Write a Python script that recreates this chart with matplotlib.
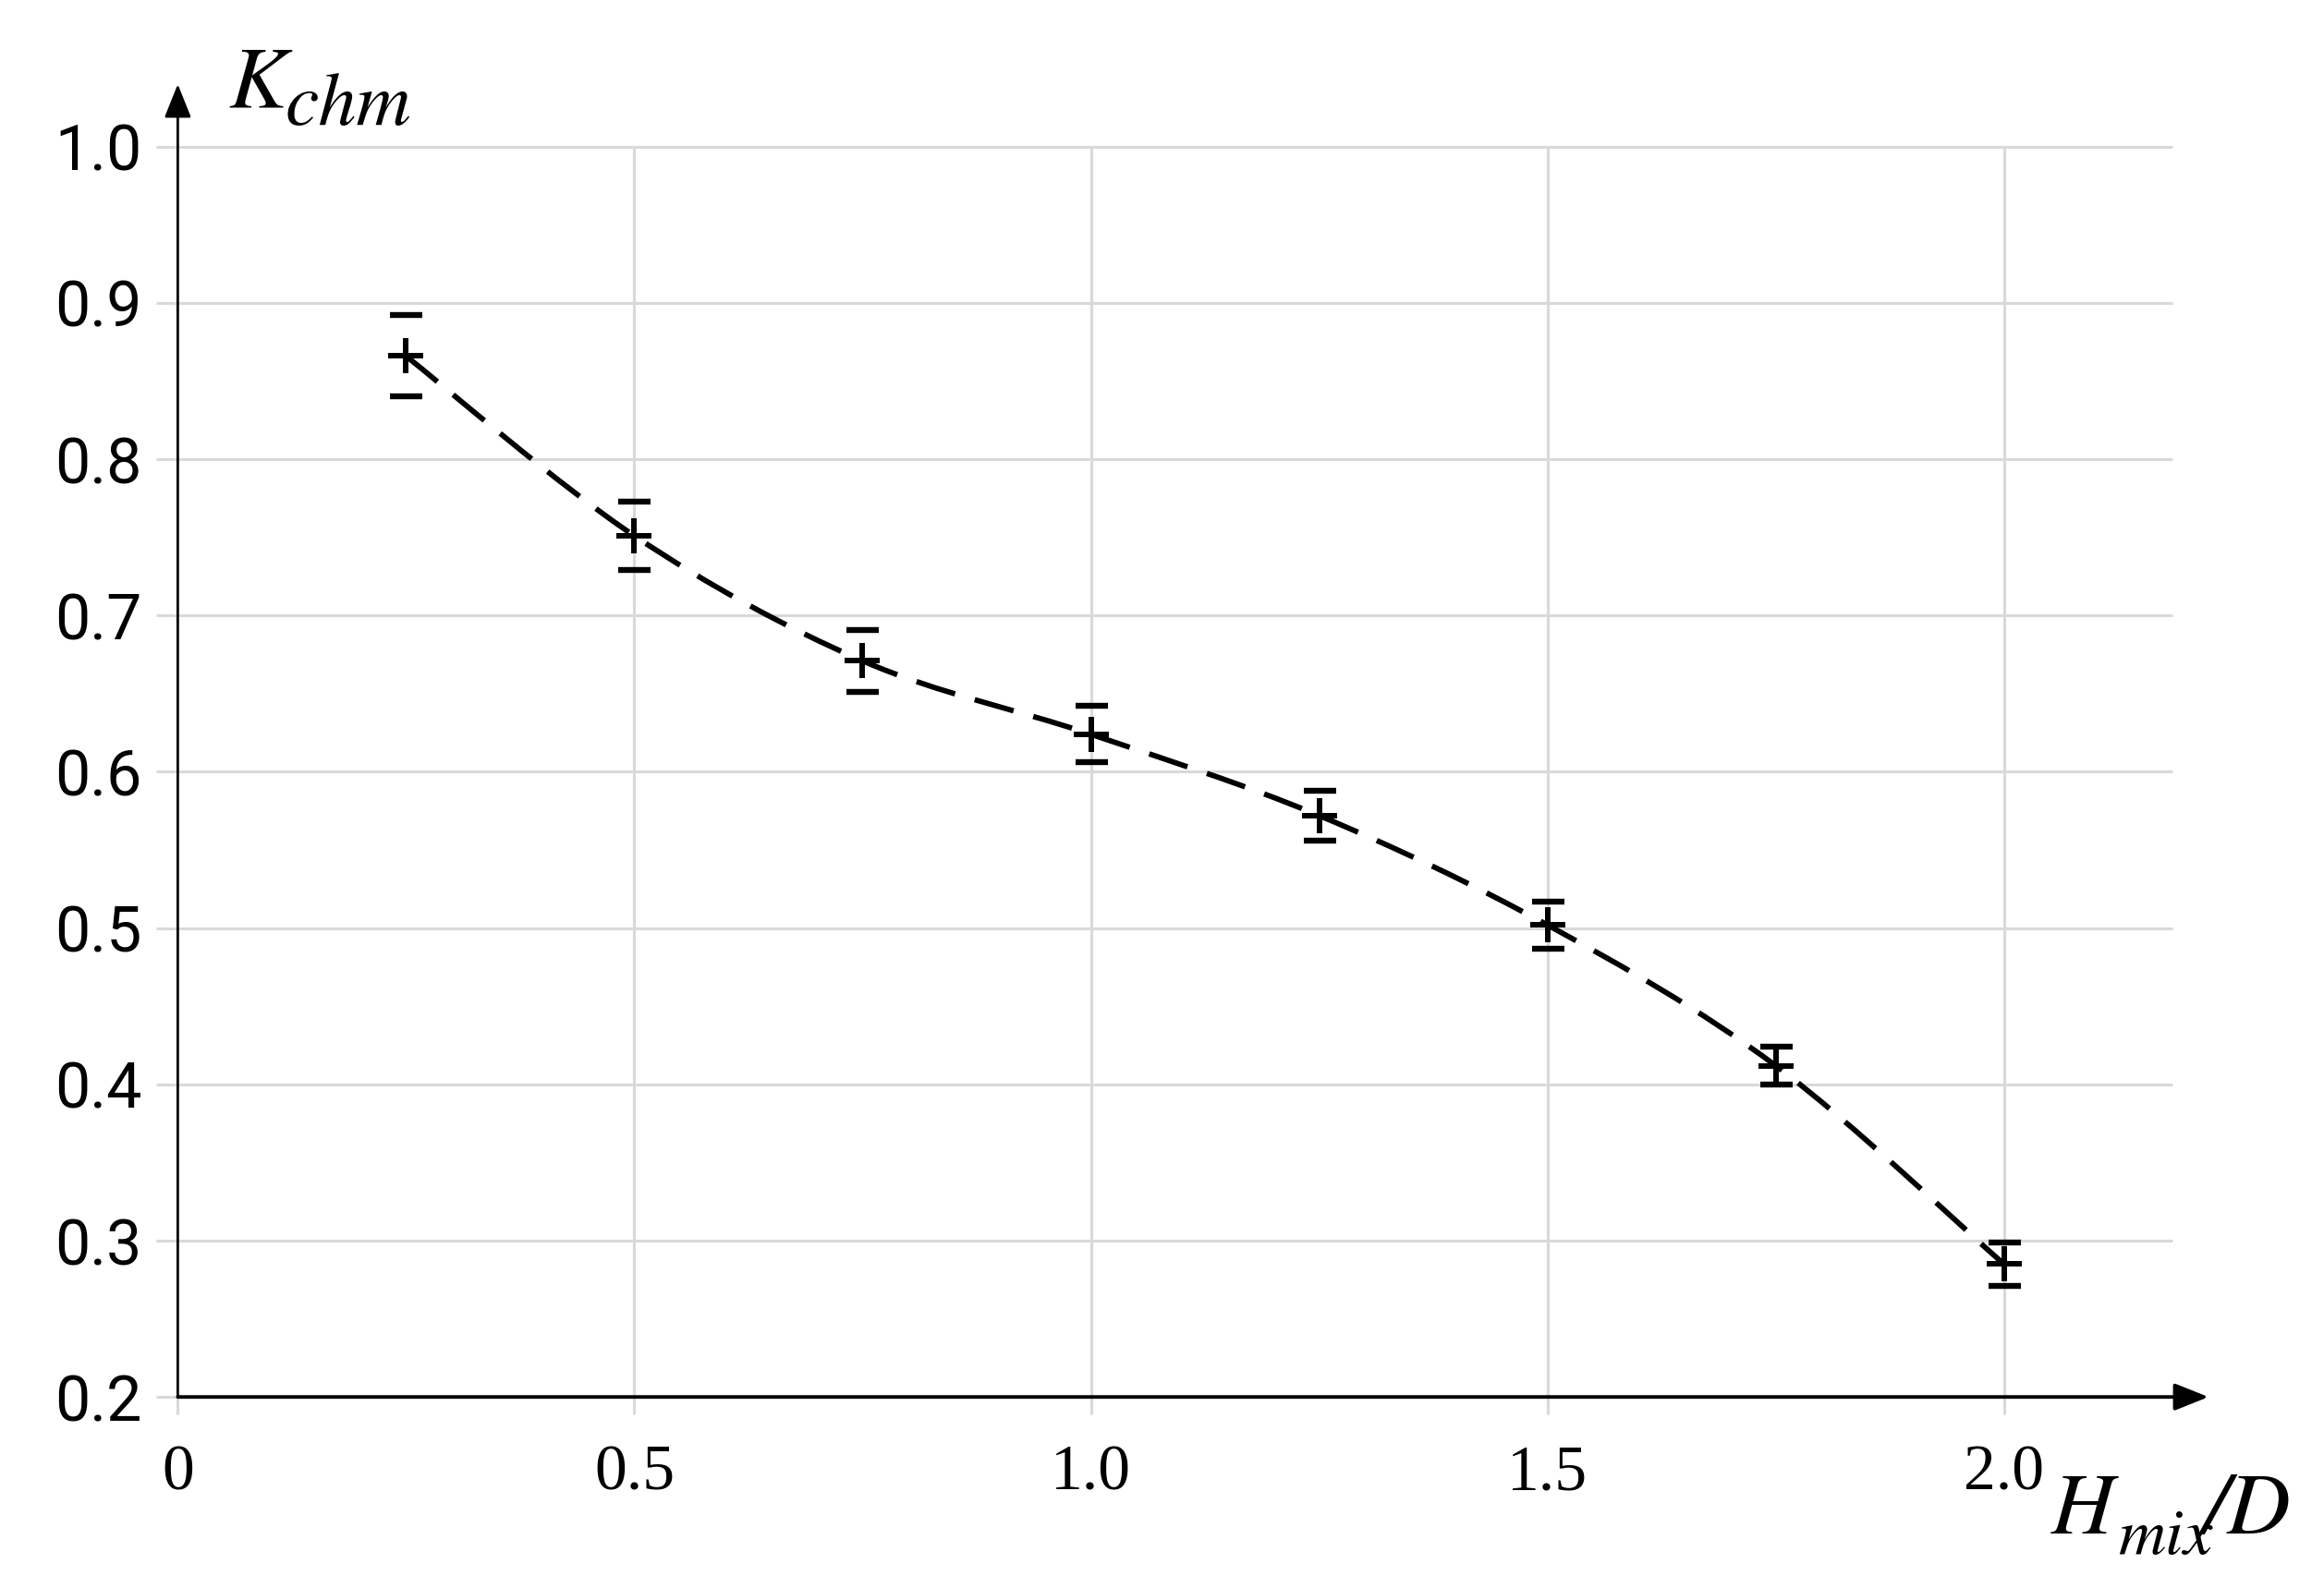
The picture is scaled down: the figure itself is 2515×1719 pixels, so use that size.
import numpy as np
from matplotlib import pyplot as plt
from matplotlib.path import Path
from matplotlib.patches import PathPatch

# данные: H_mix/D и K_chm с погрешностью
h_mix = [0.25, 0.5, 0.75, 1.0, 1.25, 1.5, 1.75, 2.0]
k_chm = [0.866, 0.751, 0.671, 0.624, 0.572, 0.502, 0.412, 0.285]
k_err = [0.026, 0.022, 0.020, 0.018, 0.016, 0.015, 0.012, 0.014]

x_ticks = [0, 0.5, 1.0, 1.5, 2.0]
x_tick_labels = ["0", "0.5", "1.0", "1.5", "2.0"]
y_ticks = [0.2, 0.3, 0.4, 0.5, 0.6, 0.7, 0.8, 0.9, 1.0]
y_tick_labels = ["0.2", "0.3", "0.4", "0.5", "0.6", "0.7", "0.8", "0.9", "1.0"]


def smooth_path(xs, ys):
    # кривая Безье через точки (Catmull-Rom), рисует сама matplotlib
    pts = np.column_stack([xs, ys])
    n = len(pts)
    verts = [pts[0]]
    codes = [Path.MOVETO]
    for i in range(n - 1):
        p0 = pts[max(i - 1, 0)]
        p1 = pts[i]
        p2 = pts[i + 1]
        p3 = pts[min(i + 2, n - 1)]
        c1 = p1 + (p2 - p0) / 6.0
        c2 = p2 - (p3 - p1) / 6.0
        verts += [c1, c2, p2]
        codes += [Path.CURVE4] * 3
    return Path(verts, codes)


fig = plt.figure(figsize=(25.15, 17.19), dpi=100)
ax = fig.add_axes([0.0765, 0.1203, 0.9503 - 0.0765, 0.947 - 0.1203])
ax.set_xlim(0, 2.224)
ax.set_ylim(0.2, 1.04)
for s in ax.spines.values():
    s.set_visible(False)

# сетка
grid_c = "#d9d9d9"
ax.hlines(y_ticks, -0.024, 2.185, color=grid_c, lw=2.2, zorder=0, clip_on=False)
ax.vlines(x_ticks[1:], 0.189, 1.0, color=grid_c, lw=2.2, zorder=0, clip_on=False)
ax.vlines([0], 0.189, 0.2, color=grid_c, lw=2.2, zorder=0, clip_on=False)

# оси со стрелками
ax.annotate("", xy=(2.224, 0.2), xytext=(0, 0.2), annotation_clip=False,
            arrowprops=dict(arrowstyle="-|>,head_length=0.45,head_width=0.18",
                            lw=2.8, color="black", mutation_scale=50,
                            shrinkA=0, shrinkB=0), zorder=3)
ax.annotate("", xy=(0, 1.04), xytext=(0, 0.2), annotation_clip=False,
            arrowprops=dict(arrowstyle="-|>,head_length=0.45,head_width=0.18",
                            lw=2.0, color="black", mutation_scale=50,
                            shrinkA=0, shrinkB=0), zorder=3)

# штриховая кривая
curve = PathPatch(smooth_path(h_mix, k_chm), fill=False, edgecolor="black",
                  lw=4.2, linestyle=(0, (7.5, 3.8)), transform=ax.transData, zorder=2)
ax.add_patch(curve)

# погрешности и точки
ax.errorbar(h_mix, k_chm, yerr=k_err, fmt="none", ecolor="black",
            elinewidth=0, capsize=12.6, capthick=4.6, zorder=4)
ax.plot(h_mix, k_chm, linestyle="none", marker="+", markersize=28,
        markeredgewidth=4.3, color="black", zorder=5)

# подписи делений
ax.set_xticks(x_ticks)
ax.set_xticklabels(x_tick_labels, family=["Liberation Serif", "DejaVu Serif"], fontsize=50)
ax.set_yticks(y_ticks)
ax.set_yticklabels(y_tick_labels, family=["Roboto", "DejaVu Sans"], fontsize=49)
ax.tick_params(axis="x", length=0, pad=37)
ax.tick_params(axis="y", length=0, pad=28)

# подписи осей (курсив, индекс крупный как в оригинале)
W, H = 2515.0, 1719.0
lab = dict(family="STIXGeneral", style="italic", va="baseline", ha="left")
fig.text(247 / W, 1 - 117 / H, "K", fontsize=68, **lab)
fig.text(309 / W, 1 - 135 / H, "chm", fontsize=59, **lab)
fig.text(2220 / W, 1 - 1660 / H, "H", fontsize=68, **lab)
fig.text(2292 / W, 1 - 1682 / H, "mix", fontsize=51, **lab)
fig.text(2384 / W, 1 - 1660 / H, "/D", fontsize=68, **lab)

fig.savefig("out.png", dpi=100, facecolor="white")
